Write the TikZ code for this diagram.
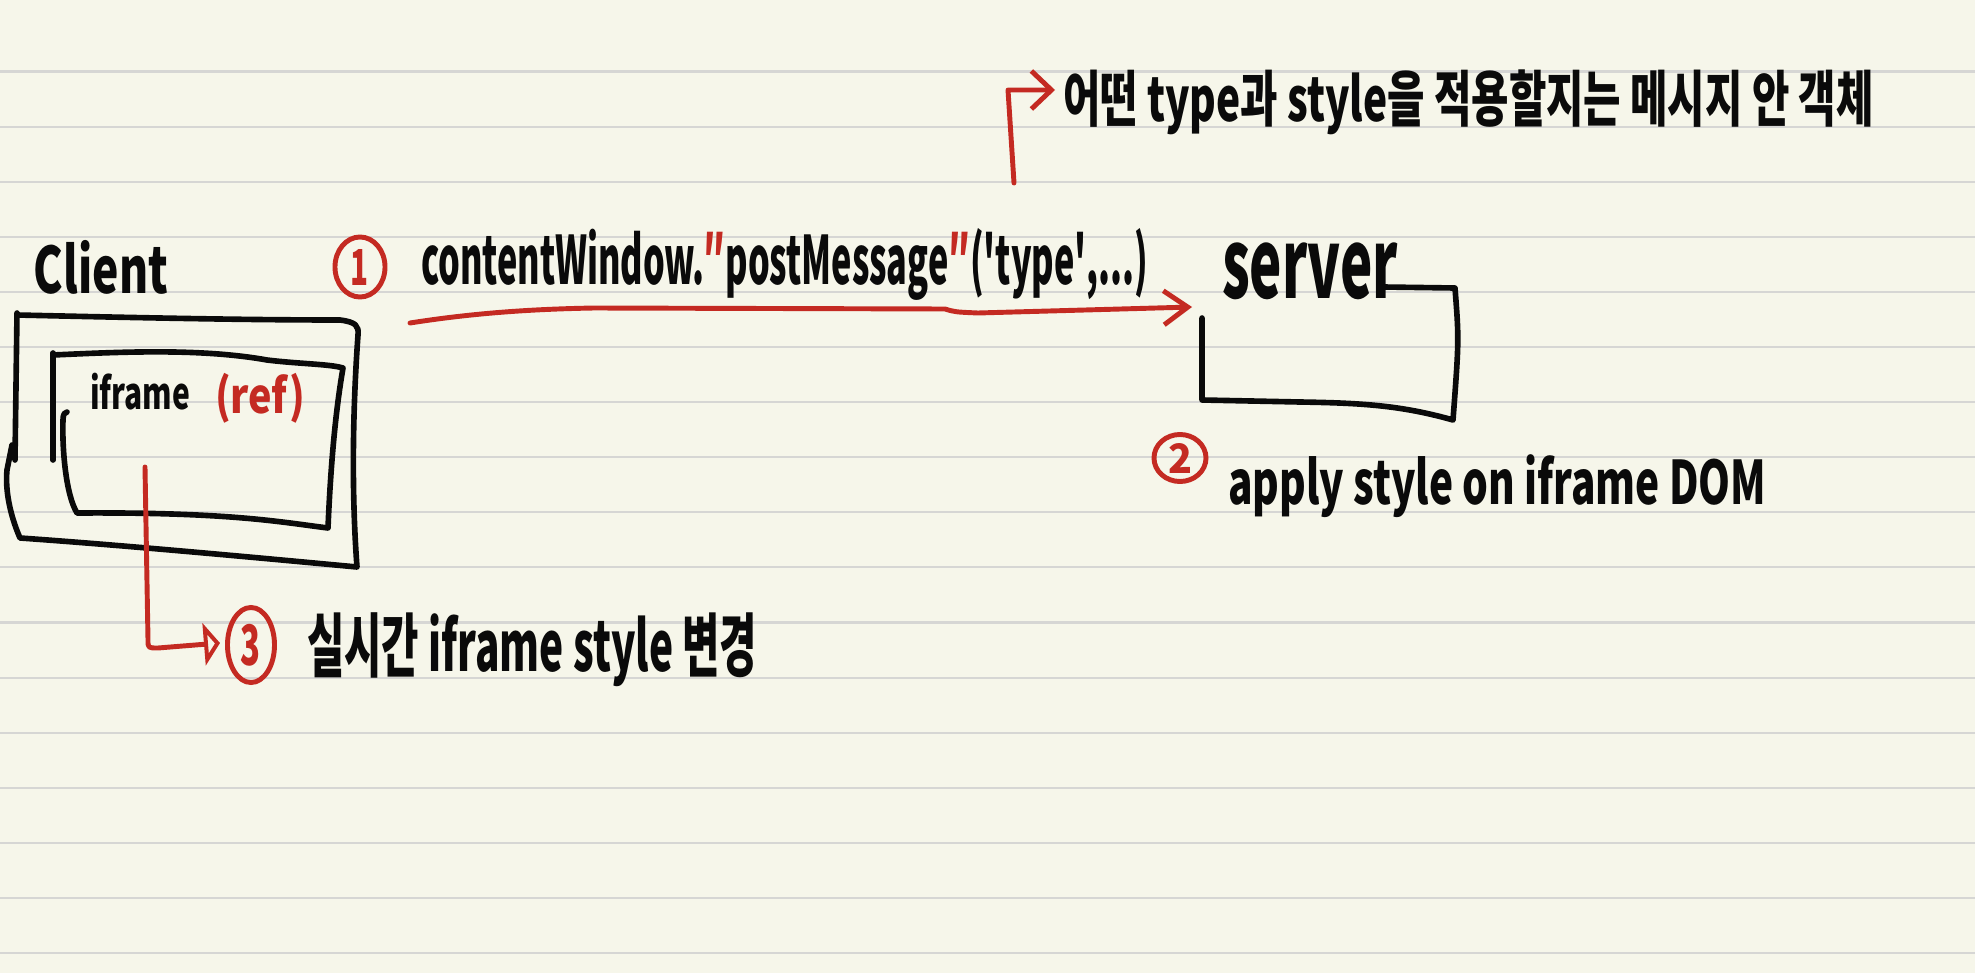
\documentclass[tikz,border=0pt]{standalone}
\usepackage{fontspec}
\setmainfont{Noto Sans CJK KR}
\usepackage{graphicx}
\usetikzlibrary{arrows.meta,shapes.geometric}
\definecolor{paper}{HTML}{F6F6EA}
\definecolor{ruleline}{HTML}{D6D6D4}
\definecolor{cred}{HTML}{C42A22}
\definecolor{inkc}{HTML}{0A0A0A}
\newcommand\hwtext[3]{\resizebox*{#1}{#2}{#3}}
\begin{document}
\begin{tikzpicture}[x=0.01cm,y=-0.01cm,
  inkline/.style={draw=inkc,line width=1.6pt,line cap=round,line join=round},
  redline/.style={draw=cred,line width=1.4pt,line cap=round,line join=round},
  lbl/.style={anchor=north west,inner sep=0pt,outer sep=0pt,text=inkc,font=\bfseries},
  numcirc/.style={ellipse,draw=cred,line width=1.4pt,inner sep=0pt,text=cred,font=\bfseries},
  barb/.style={-{Straight Barb[length=0.2cm,width=0.38cm]}}]
\fill[paper] (0,0) rectangle (1975,973);
\useasboundingbox (0,0) rectangle (1975,973);
\foreach \k in {0,...,16}
  \draw[ruleline,line width=0.6pt] (0,{71.5+55.1*\k}) -- (1975,{71.5+55.1*\k});

% texts
\node[lbl] (client) at (34,240) {\hwtext{1.34cm}{0.54cm}{Client}};
\node[lbl] (msg) at (421,228) {\hwtext{7.27cm}{0.72cm}{contentWindow.\textcolor{cred}{″}postMessage\textcolor{cred}{″}(\textquotesingle type\textquotesingle,...)}};
\node[lbl] (server) at (1222,243) {\hwtext{1.76cm}{0.57cm}{server}};
\node[lbl] (note) at (1063,70) {\hwtext{8.10cm}{0.65cm}{어떤 type과 style을 적용할지는 메시지 안 객체}};
\node[lbl] (apply) at (1228,455) {\hwtext{5.38cm}{0.63cm}{apply style on iframe DOM}};
\node[lbl] (live) at (307,613) {\hwtext{4.50cm}{0.74cm}{실시간 iframe style 변경}};
\node[lbl] (ifr) at (90,373) {\hwtext{1.00cm}{0.37cm}{iframe}};
\node[lbl,text=cred] (ref) at (215,373) {\hwtext{0.90cm}{0.50cm}{(ref)}};

% numbered circles
\node[numcirc,minimum width=0.5cm,minimum height=0.6cm] (n1) at (360,267) {\hwtext{0.18cm}{0.36cm}{1}};
\node[numcirc,minimum width=0.52cm,minimum height=0.47cm] (n2) at (1180,458) {\hwtext{0.24cm}{0.3cm}{2}};
\node[numcirc,minimum width=0.47cm,minimum height=0.75cm] (n3) at (251,645) {\hwtext{0.2cm}{0.42cm}{3}};

% client outer box
\draw[inkline] (17,313) -- (15,460);
\draw[inkline] (17,315) .. controls (150,318) and (250,320) .. (340,320)
  .. controls (356,322) and (359,326) .. (358,335)
  .. controls (352,420) and (352,500) .. (357,567)
  .. controls (250,557) and (120,545) .. (20,538)
  .. controls (10,515) and (5,490) .. (7,470) -- (12,445);
% iframe inner box
\draw[inkline] (53,353) -- (53,460);
\draw[inkline] (53,355) .. controls (120,352) and (200,348) .. (267,360)
  .. controls (300,364) and (330,364) .. (343,368)
  .. controls (334,420) and (330,480) .. (328,528)
  .. controls (280,522) and (230,512) .. (77,513)
  .. controls (66,495) and (62,450) .. (63,420)
  .. controls (63,414) and (65,412) .. (67,412);
% server box
\draw[inkline] (1383,287) -- (1455,288) .. controls (1459,340) .. (1453,420)
  .. controls (1400,405) and (1360,403) .. (1300,402) -- (1202,400) -- (1202,318);

% connectors
\coordinate (t0) at (1014,183);
\coordinate (t1) at (1008,90);
\coordinate (t2) at (1055,90);
\draw[redline,barb] (t0) -- (t1) -- (t2);

\coordinate (m0) at (410,323);
\coordinate (m1) at (594,308);
\coordinate (m2) at (945,309);
\coordinate (m3) at (978,313);
\coordinate (m4) at (1192,307);
\draw[redline,-{Straight Barb[length=0.24cm,width=0.34cm]}] (m0) .. controls (480,312) and (540,309) .. (m1) -- (m2) .. controls (955,312) .. (m3) -- (m4);

\coordinate (r0) at (145,467);
\coordinate (r1) at (148,640);
\coordinate (r2) at (220,643);
\draw[redline,-{Triangle[open,length=0.16cm,width=0.42cm]}] (r0) -- (r1) .. controls (148,648) .. (158,648) -- (r2);
\end{tikzpicture}
\end{document}
